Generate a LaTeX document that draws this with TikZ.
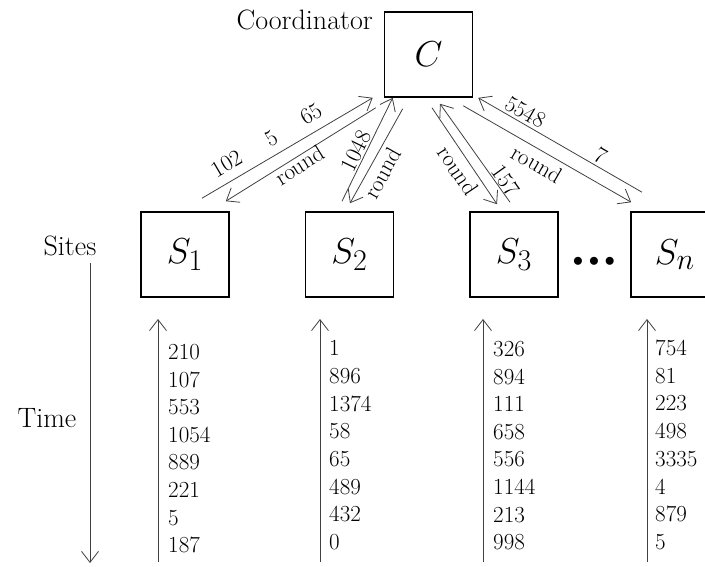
\documentclass[tikz,border=0pt]{standalone}
\usepackage{graphicx}
\usetikzlibrary{arrows.meta}
\newcommand{\boxlbl}[1]{\scalebox{1.45}{$#1$}}
\begin{document}
\begin{tikzpicture}[x=1pt,y=-1pt,
  box/.style={draw, line width=1.6pt, minimum width=88pt, minimum height=85pt, inner sep=0pt, font=\fontsize{24.88}{25}\selectfont},
  msg/.style={draw=black!75, line width=0.8pt, -{Straight Barb[length=11pt,width=17pt]}},
  lbl/.style={font=\fontsize{28}{28}\selectfont, inner sep=0pt},
  val/.style={font=\fontsize{23}{23}\selectfont, inner sep=0pt},
  ]
  \useasboundingbox (0,0) rectangle (705,566);

  % Coordinator and sites
  \node[box] (C) at (428.5,54.5) {\boxlbl{C}};
  \node[lbl, anchor=base east] (coord) at (373,29) {Coordinator};
  \node[box] (S1) at (185,254.5) {\boxlbl{S_1}};
  \node[box] (S2) at (349.5,254.5) {\boxlbl{S_2}};
  \node[box] (S3) at (514,254.5) {\boxlbl{S_3}};
  \node[box] (Sn) at (675,254.5) {\boxlbl{S_n}};
  \node[inner sep=0pt, font=\fontsize{20.74}{21}\selectfont] (dots) at (594,262)
    {$\bullet$\hspace{5.5pt}$\bullet$\hspace{5.5pt}$\bullet$};
  \node[lbl, anchor=base] (sites) at (70,255) {Sites};
  \node[lbl, anchor=base] (time) at (47,427) {Time};

  % Messages between C and the sites
  \draw[msg] ([xshift=17pt,yshift=13pt]S1.north) -- ([xshift=-11pt]C.south west)
    node[val, sloped, pos=.195, above=9pt] {102}
    node[val, sloped, pos=.453, above=8pt] {5}
    node[val, sloped, pos=.689, above=9pt] {65};
  \draw[msg] ([xshift=-8pt,yshift=-10pt]C.south west) -- ([xshift=-4pt,yshift=10pt]S1.north east)
    node[val, sloped, pos=.536, below=0pt] {round};
  \draw[msg] ([xshift=-7.5pt,yshift=10pt]S2.north) -- ([xshift=9pt]C.south west)
    node[val, sloped, pos=.445, above=1pt] {1048};
  \draw[msg] ([xshift=19pt,yshift=-11pt]C.south west) -- ([xshift=.5pt,yshift=8pt]S2.north)
    node[val, sloped, pos=.61, below=5pt] {round};
  \draw[msg] ([xshift=3.5pt,yshift=-10pt]C.south) -- ([xshift=-17pt,yshift=7pt]S3.north)
    node[val, sloped, pos=.573, below=5pt] {round};
  \draw[msg] ([xshift=-4pt,yshift=9pt]S3.north) -- ([xshift=11.5pt,yshift=-6pt]C.south)
    node[val, sloped, pos=.167, above=1pt] {157};
  \draw[msg] ([xshift=-33pt,yshift=19pt]Sn.north) -- ([xshift=5pt]C.south east)
    node[val, sloped, pos=.286, above=3pt] {7}
    node[val, sloped, pos=.745, above=3pt] {5548};
  \draw[msg] ([xshift=-10pt,yshift=-8pt]C.south east) -- ([xshift=1pt,yshift=9pt]Sn.north west)
    node[val, sloped, pos=.48, below=5pt] {round};

  % Time axis
  \coordinate (t0) at (90,263);
  \coordinate (t1) at (90,563);
  \draw[msg] (t0) -- (t1);

  % Local streams
  \foreach \s/\x in {1/158,2/320,3/483,n/647}{
    \coordinate (lo\s) at (\x,562);
    \coordinate (hi\s) at (\x,319);
    \draw[msg] (lo\s) -- (hi\s);
  }
  \foreach \v [count=\i] in {210,107,553,1054,889,221,5,187}
    \node[val, anchor=west] (a\i) at (168,{352+27.6*(\i-1)}) {\v};
  \foreach \v [count=\i] in {1,896,1374,58,65,489,432,0}
    \node[val, anchor=west] (b\i) at (329,{348+27.7*(\i-1)}) {\v};
  \foreach \v [count=\i] in {326,894,111,658,556,1144,213,998}
    \node[val, anchor=west] (c\i) at (493,{349+27.6*(\i-1)}) {\v};
  \foreach \v [count=\i] in {754,81,223,498,3335,4,879,5}
    \node[val, anchor=west] (d\i) at (655,{348+27.7*(\i-1)}) {\v};
\end{tikzpicture}
\end{document}
